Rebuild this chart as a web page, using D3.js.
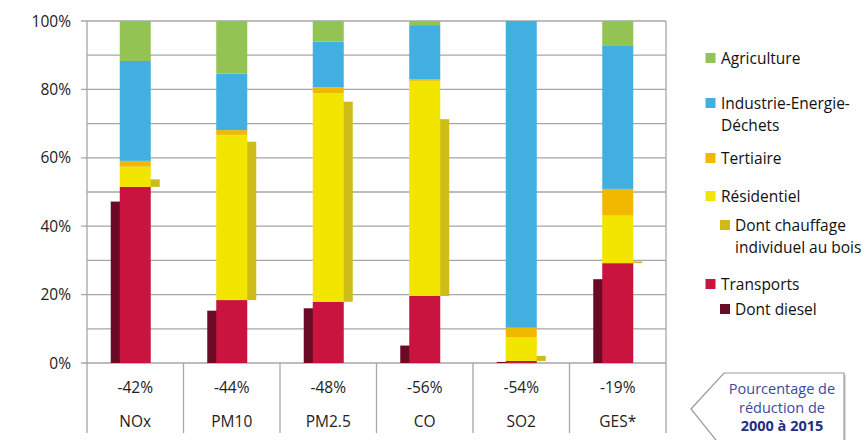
<!DOCTYPE html>
<html><head><meta charset="utf-8">
<script src="https://cdn.jsdelivr.net/npm/d3@7"></script>
<style>body{margin:0;background:#fff}svg{display:block}text{font-family:"Open Sans",sans-serif}</style>
</head><body><svg id="c" width="867" height="440"></svg>
<script>
const categories = ["NOx","PM10","PM2.5","CO","SO2","GES*"];
const reductions = ["-42%","-44%","-48%","-56%","-54%","-19%"];
const transports = [51.5,18.4,17.9,19.6,0.6,29.2];
const residentiel = [5.9,48.3,61.0,62.9,6.9,13.9];
const tertiaire = [1.7,1.4,1.7,0.5,2.8,7.8];
const industrie = [29.2,16.5,13.4,15.8,89.7,41.8];
const agriculture = [11.7,15.4,6.0,1.2,0.0,7.3];
const diesel = [47.2,15.3,16.0,5.1,0.3,24.5];
const chauffage = [2.2,46.3,58.5,51.7,1.5,0.5];
const yTicks = [0,20,40,60,80,100];

const colors = {Transports:"#c8143f",Residentiel:"#f2e500",Tertiaire:"#f2b800",Industrie:"#41b0e1",Agriculture:"#92c353",Diesel:"#6a0a24",Chauffage:"#cebd19"};

const svg = d3.select("#c");
const L=87,R=666,T=21,B=363;
const x = d3.scaleBand().domain(categories).range([L,R]).paddingInner(0).paddingOuter(0);
const y = d3.scaleLinear().domain([0,100]).range([B,T]);

const g = svg.append("g");
g.selectAll("line.grid").data(d3.range(10,101,10)).enter().append("line")
 .attr("x1",d=>d%20===0?L-6:L).attr("x2",R).attr("y1",d=>y(d)).attr("y2",d=>y(d))
 .attr("stroke","#a6a6a6").attr("stroke-width",1.3);
g.append("line").attr("x1",L-6).attr("x2",R).attr("y1",y(0)).attr("y2",y(0)).attr("stroke","#a6a6a6").attr("stroke-width",1.3);
g.append("line").attr("x1",L).attr("x2",L).attr("y1",T).attr("y2",433).attr("stroke","#a6a6a6").attr("stroke-width",1.3);
g.append("line").attr("x1",R).attr("x2",R).attr("y1",T).attr("y2",433).attr("stroke","#a6a6a6").attr("stroke-width",1.3);
categories.slice(1).forEach(c=>{
  g.append("line").attr("x1",x(c)).attr("x2",x(c)).attr("y1",B).attr("y2",433).attr("stroke","#a6a6a6").attr("stroke-width",1.3);
});
g.selectAll("text.yl").data(yTicks).enter().append("text")
 .attr("x",71).attr("y",d=>y(d)+5.5).attr("text-anchor","end").attr("font-size",15.5).attr("fill","#222")
 .text(d=>d+"%");

const bw=31, sw=10;
const cx = c => x(c)+x.bandwidth()/2;
svg.append("g").selectAll("rect").data(categories).enter().append("rect")
 .attr("x",c=>cx(c)-bw/2-sw+1).attr("width",sw).attr("y",(c,i)=>y(diesel[i])).attr("height",(c,i)=>y(0)-y(diesel[i]))
 .attr("fill",colors.Diesel);
svg.append("g").selectAll("rect").data(categories).enter().append("rect")
 .attr("x",c=>cx(c)+bw/2-1).attr("width",sw).attr("y",(c,i)=>y(transports[i]+chauffage[i])).attr("height",(c,i)=>y(transports[i])-y(transports[i]+chauffage[i]))
 .attr("fill",colors.Chauffage);
const series=[["Transports",transports],["Residentiel",residentiel],["Tertiaire",tertiaire],["Industrie",industrie],["Agriculture",agriculture]];
const rows = categories.map((c,i)=>{const o={cat:c};series.forEach(([k,a])=>o[k]=a[i]);return o;});
const stack = d3.stack().keys(series.map(s=>s[0]))(rows);
svg.append("g").selectAll("g").data(stack).enter().append("g").attr("fill",d=>colors[d.key])
 .selectAll("rect").data(d=>d).enter().append("rect")
 .attr("x",d=>cx(d.data.cat)-bw/2).attr("width",bw)
 .attr("y",d=>y(d[1])).attr("height",d=>Math.max(0,y(d[0])-y(d[1])));

svg.append("g").selectAll("text").data(categories).enter().append("text")
 .attr("x",c=>cx(c)).attr("y",393).attr("text-anchor","middle").attr("font-size",15.5).attr("fill","#222")
 .text((c,i)=>reductions[i]);
svg.append("g").selectAll("text").data(categories).enter().append("text")
 .attr("x",c=>cx(c)).attr("y",426.5).attr("text-anchor","middle").attr("font-size",15.5).attr("fill","#222")
 .text(c=>c);

const legend=[
 {sq:705.5,tx:721,y:58,col:colors.Agriculture,lines:["Agriculture"]},
 {sq:705.5,tx:721,y:103,col:colors.Industrie,lines:["Industrie-Energie-","Déchets"]},
 {sq:705.5,tx:721,y:158,col:colors.Tertiaire,lines:["Tertiaire"]},
 {sq:705.5,tx:721,y:196,col:colors.Residentiel,lines:["Résidentiel"]},
 {sq:720,tx:735,y:225,col:colors.Chauffage,lines:["Dont chauffage","individuel au bois"]},
 {sq:705.5,tx:721,y:284,col:colors.Transports,lines:["Transports"]},
 {sq:720,tx:735,y:309,col:colors.Diesel,lines:["Dont diesel"]}
];
const lg=svg.append("g");
legend.forEach(d=>{
  lg.append("rect").attr("x",d.sq).attr("y",d.y-5).attr("width",10).attr("height",10).attr("fill",d.col);
  d.lines.forEach((t,j)=>lg.append("text").attr("x",d.tx).attr("y",d.y+5.5+j*22).attr("font-size",15.5).attr("fill","#111").text(t));
});

const cg=svg.append("g");
const pts=[[691,409],[724,373],[844,373],[844,450],[724,450]];
cg.append("polygon").attr("points",pts.map(p=>[p[0]+2,p[1]+2].join(",")).join(" ")).attr("fill","#d9d9d9");
cg.append("polygon").attr("points",pts.map(p=>p.join(",")).join(" ")).attr("fill","#fff").attr("stroke","#9a9a9a").attr("stroke-width",1.2);
cg.append("text").attr("x",782).attr("y",394).attr("text-anchor","middle").attr("font-size",14.5).attr("fill","#3a4aa0").text("Pourcentage de");
cg.append("text").attr("x",782).attr("y",412.5).attr("text-anchor","middle").attr("font-size",14.5).attr("fill","#3a4aa0").text("réduction de");
cg.append("text").attr("x",782).attr("y",431).attr("text-anchor","middle").attr("font-size",14.5).attr("font-weight","bold").attr("fill","#1f3080").text("2000 à 2015");
</script></body></html>
